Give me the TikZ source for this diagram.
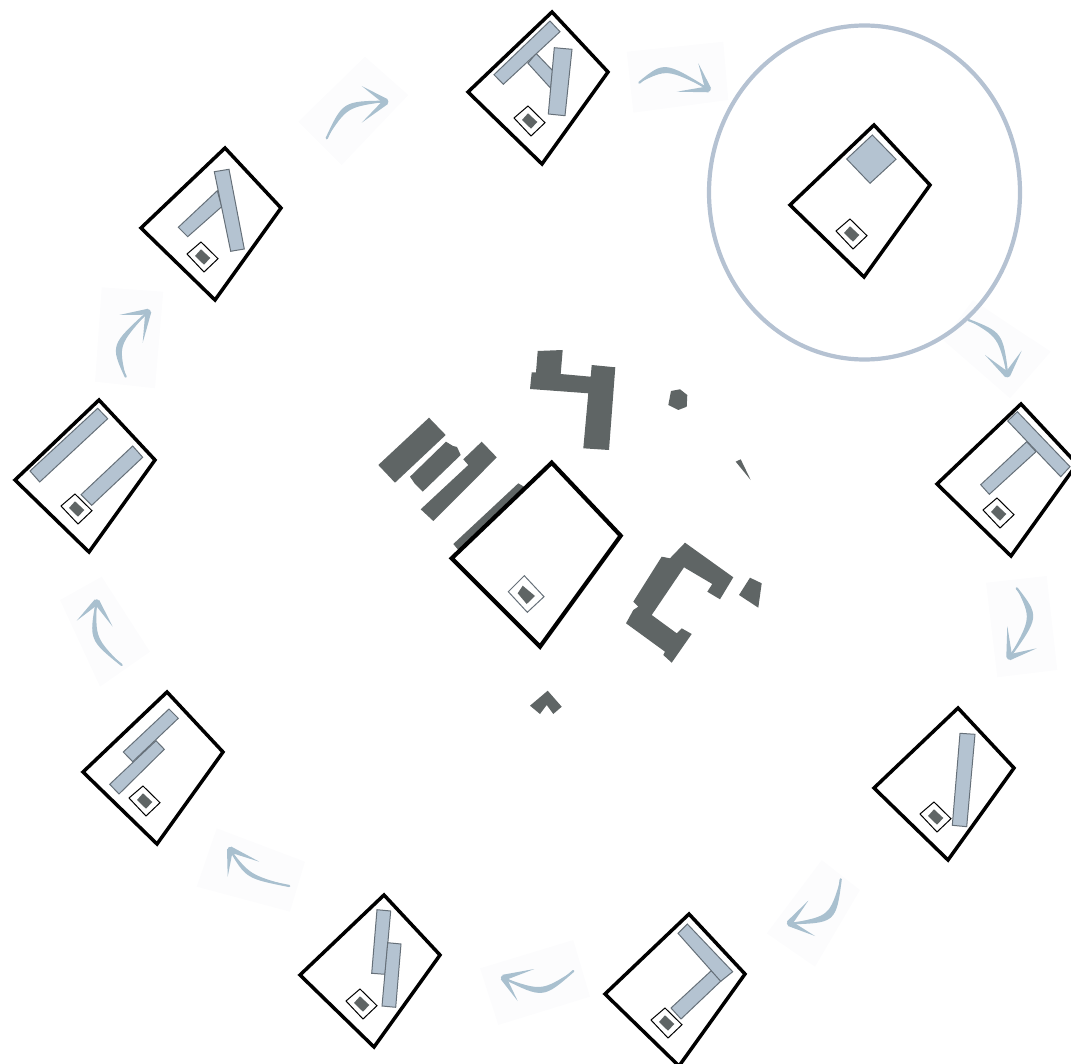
\documentclass[tikz,border=0pt]{standalone}
\usepackage{xcolor}
\usepackage{tikz}
\usetikzlibrary{calc}
\definecolor{slabblue}{HTML}{B4C3D1}
\definecolor{slabline}{HTML}{667079}
\definecolor{ringblue}{HTML}{B5C2D2}
\definecolor{sweepblue}{HTML}{A9C0CF}
\definecolor{patchgray}{HTML}{FCFCFD}
\definecolor{blockgray}{HTML}{5F6565}
\newcommand{\sweep}[5]{%
  \fill[sweepfill] (#1) .. controls (#2) .. (#3)
    .. controls ($(#2)!0.28!($(#1)!0.5!(#3)$)$) .. (#1);
  \draw[sweepline] (#1) .. controls (#2) .. (#3);
  \fill[sweepfill] (#4) -- ($(#3)!3pt!90:(#4)$) -- ($(#3)!3pt!-90:(#4)$) -- cycle;
  \fill[sweepfill] (#5) -- ($(#3)!3pt!90:(#5)$) -- ($(#3)!3pt!-90:(#5)$) -- cycle;
  \fill[sweepfill] (#3) circle [radius=2.4];
}
\begin{document}
\begin{tikzpicture}[
  x=1pt,y=-1pt,
  sitemark/.style={draw=black,line width=3.5pt,line join=miter},
  framemark/.style={draw=black,fill=white,line width=1pt},
  block/.style={fill=blockgray},
  slab/.style={fill=slabblue,draw=slabline,line width=1pt},
  ring/.style={draw=ringblue,line width=4.2pt},
  patch/.style={fill=patchgray},
  sweepfill/.style={fill=sweepblue},
  sweepline/.style={draw=sweepblue,line width=2.2pt,line cap=round},
  site/.pic={
    \draw[sitemark] (0,0) -- (56,60) -- (-10,152) -- (-84,80) -- cycle;
    \draw[framemark] (-24,94) -- (-7,110.7) -- (-21,124) -- (-38,106) -- cycle;
    \fill[block] (-24,101.3) -- (-14.7,110) -- (-21,116.7) -- (-30,108) -- cycle;
  }
]
\useasboundingbox (0,0) rectangle (1071,1064);
\clip (0,0) rectangle (1071,1064);

\fill[patch] (626.7,51.7) -- (723.3,41.7) -- (728.3,100) -- (633.3,112.7) -- cycle;
\fill[patch] (973,300) -- (1050.7,351.7) -- (1010,398.3) -- (943,340) -- cycle;
\fill[patch] (986,582.7) -- (1046.7,576) -- (1057.3,670) -- (997.3,677.3) -- cycle;
\fill[patch] (821.7,860) -- (860,890) -- (815,966.7) -- (766.7,933.3) -- cycle;
\fill[patch] (573.3,940) -- (590,996.7) -- (498.3,1025) -- (480,968.3) -- cycle;
\fill[patch] (216.7,828.3) -- (305,861.7) -- (290,911.7) -- (196.7,886.7) -- cycle;
\fill[patch] (101.7,576.7) -- (150,651.7) -- (100,686.7) -- (60,600) -- cycle;
\fill[patch] (101.7,287.3) -- (163.3,291.7) -- (155,388.3) -- (95,381.7) -- cycle;
\fill[patch] (365,56.7) -- (408.3,95) -- (341.7,165) -- (298.3,121.7) -- cycle;

\sweep{639.3,82.7}{664.3,62.4}{708.3,89.3}{698.3,63.3}{676.7,91.7}
\sweep{968.3,320}{1001.8,333.1}{1007.3,375}{1021.7,350.7}{985,355}
\sweep{1016.7,588.3}{1038.3,616.4}{1009.3,657.3}{1007.3,626}{1036.7,648.3}
\sweep{840.7,879.3}{835,921.9}{789.3,923.3}{808.3,900.7}{815,936}
\sweep{573.3,971}{542.9,997.5}{503.3,977.7}{534.3,969}{517.7,1001}
\sweep{289.3,886}{246.7,877.5}{230,849.3}{259.3,861.7}{227.7,876.7}
\sweep{121.7,665}{90.3,639.6}{96.7,601.7}{76.7,620.7}{112.7,626.7}
\sweep{125.7,376.7}{111.6,345.3}{148.3,311.7}{119.3,315}{142.7,342.7}
\sweep{326.7,138.3}{343.5,102.3}{386,101.7}{361.7,86}{361.7,122.7}

\draw[ring] (864.5,192.5) ellipse [x radius=155.5,y radius=167];

\fill[block] (537.7,351) -- (562.7,350) -- (560.7,374) -- (590.7,376.7) -- (591.7,365) -- (615.3,367.3) -- (609,450) -- (583.3,448.3) -- (588.3,393.3) -- (530,389) -- (531.7,372.3) -- (536,372.3) -- cycle;
\fill[block] (671,391) -- (680,389.3) -- (687.3,395) -- (686.7,406.7) -- (678.3,410) -- (668.3,405) -- cycle;
\fill[block] (735.7,461.7) -- (740.7,459.3) -- (750.7,480) -- cycle;
\fill[block] (429,417.7) -- (445.7,435) -- (395,482.7) -- (378.3,465) -- cycle;
\fill[block] (446,441.7) -- (453,446) -- (457,447) -- (460.7,455) -- (422.7,491.7) -- (415,484) -- (410,476.7) -- cycle;
\fill[block] (481.7,441.7) -- (496.7,457.3) -- (481,473.3) -- (433.3,521) -- (420.7,509.3) -- (468.3,465) -- (463.3,459.3) -- cycle;
\fill[block] (518.3,483.3) -- (524,486.7) -- (458.3,550) -- (453.3,544) -- cycle;
\fill[block] (685,542.7) -- (733.3,577.3) -- (720,599.3) -- (707.3,591.7) -- (712.3,584) -- (684,567.3) -- (651.7,615) -- (676.7,633.3) -- (681.7,628.3) -- (691.7,634) -- (671.7,662.7) -- (663.3,655) -- (665,651.7) -- (626,623.3) -- (633.3,610) -- (638.3,606.7) -- (633.3,601.7) -- (661.7,556.7) -- (670,558.3) -- cycle;
\fill[block] (750,577.7) -- (761.7,583.3) -- (758.3,607.7) -- (739,595) -- cycle;
\fill[block] (547.7,690.7) -- (561.7,706.7) -- (553.3,714) -- (546.7,705) -- (540,714) -- (530,705.7) -- cycle;

\draw[sitemark,line width=4.2pt] (551.7,462.7) -- (620.7,535.7) -- (540,646.7) -- (451.7,558.3) -- cycle;
\draw[framemark,draw=slabline] (524.3,575.7) -- (544,596.7) -- (527.3,612.3) -- (508.3,591.7) -- cycle;
\fill[block] (522.7,585.7) -- (535,596) -- (526.7,604) -- (517.7,593.3) -- cycle;

\draw[slab] (536,53.3) -- (552.7,70.7) -- (550.7,88.3) -- (528,63.3) -- cycle;
\draw[slab] (550,21) -- (560,31.7) -- (503.3,84.3) -- (494,74.7) -- cycle;
\draw[slab] (554.3,47.7) -- (572,49.3) -- (565,115.7) -- (548.3,114) -- cycle;
\pic at (552,12) {site};

\draw[slab] (872.3,135) -- (896,159.3) -- (870,183.3) -- (846.7,159) -- cycle;
\pic at (874,125) {site};

\draw[slab] (1026.7,441.7) -- (1036,451.7) -- (989.3,494.3) -- (980.7,484.7) -- cycle;
\draw[slab] (1017.3,411.7) -- (1070,466.7) -- (1060.7,476.7) -- (1007.7,421) -- cycle;
\pic at (1021,404) {site};

\draw[slab] (960,733.3) -- (975,734.3) -- (966.7,826.7) -- (952.3,825.3) -- cycle;
\pic at (958,708) {site};

\draw[slab] (711.3,970.7) -- (721.3,980.7) -- (681,1019) -- (671,1008) -- cycle;
\draw[slab] (687.3,924) -- (732.7,971.7) -- (720.7,981.3) -- (678,933.3) -- cycle;
\pic at (689,914) {site};

\draw[slab] (377,909.7) -- (390.7,911) -- (385,974.3) -- (371.7,973.3) -- cycle;
\draw[slab] (387.7,942.7) -- (401,944) -- (395.7,1007.3) -- (382,1006) -- cycle;
\pic at (384,895) {site};

\draw[slab] (156,740.7) -- (164.3,749.3) -- (119,794) -- (109.7,784.3) -- cycle;
\draw[slab] (169,709) -- (178.3,718.3) -- (132.7,761.7) -- (123.3,752) -- cycle;
\pic at (167,692) {site};

\draw[slab] (97.7,408.3) -- (107.7,418.7) -- (39.7,482) -- (30,471) -- cycle;
\draw[slab] (132.7,446) -- (142.7,457.3) -- (91.7,505.3) -- (81,494.7) -- cycle;
\pic at (99,400) {site};

\draw[slab] (217.3,190.7) -- (221.7,206.7) -- (187.7,236.7) -- (178.3,227.3) -- cycle;
\draw[slab] (214.3,171.7) -- (229,169.3) -- (244.3,249) -- (230.7,251.3) -- cycle;
\pic at (225,148) {site};
\end{tikzpicture}
\end{document}
